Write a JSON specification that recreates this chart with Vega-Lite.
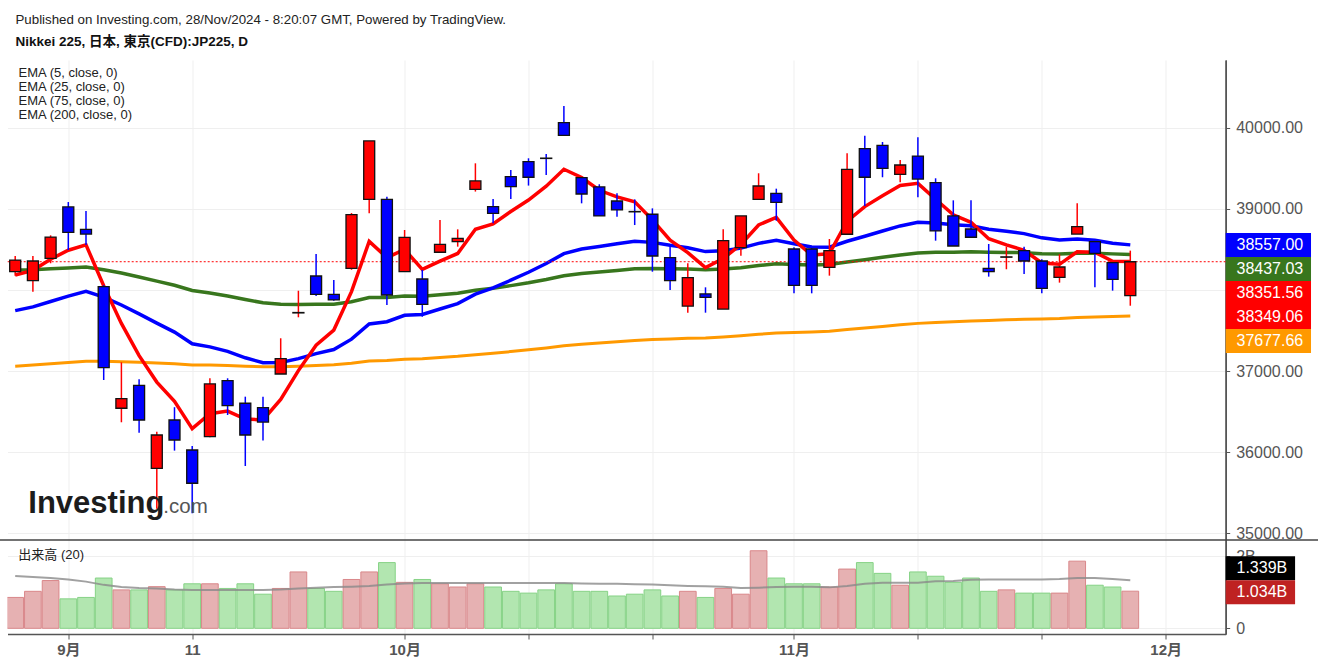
{
  "$schema": "https://vega.github.io/schema/vega-lite/v6.json",
  "width": 1218.2,
  "height": 574,
  "autosize": {"type": "none"},
  "padding": {"left": 7.5, "top": 60, "right": 92.3, "bottom": 33},
  "background": "white",
  "title": {
    "text": "Published on Investing.com, 28/Nov/2024 - 8:20:07 GMT, Powered by TradingView.",
    "subtitle": "Nikkei 225, 日本, 東京(CFD):JP225, D",
    "anchor": "start",
    "frame": "group",
    "orient": "top",
    "offset": 12,
    "dx": 8,
    "font": "Liberation Sans, Noto Sans CJK JP",
    "fontSize": 13.3,
    "fontWeight": "normal",
    "color": "#222222",
    "subtitleFont": "Liberation Sans, Noto Sans CJK JP",
    "subtitleFontSize": 13.5,
    "subtitleFontWeight": "bold",
    "subtitleColor": "#111111",
    "subtitlePadding": 8.5
  },
  "datasets": {
    "bars": [
      {"i":0,"d":"2024-08-28","o":38226,"h":38420,"l":38177,"c":38370,"v":0.86,"vma":1.46,"e5":38185,"e25":37745,"e75":38247,"e200":37060},
      {"i":1,"d":"2024-08-29","o":38115,"h":38420,"l":37979,"c":38358,"v":1.03,"vma":1.43,"e5":38243,"e25":37792,"e75":38250,"e200":37073},
      {"i":2,"d":"2024-08-30","o":38391,"h":38675,"l":38330,"c":38654,"v":1.33,"vma":1.40,"e5":38380,"e25":37858,"e75":38261,"e200":37089},
      {"i":3,"d":"2024-09-02","o":39025,"h":39086,"l":38494,"c":38712,"v":0.82,"vma":1.36,"e5":38491,"e25":37924,"e75":38273,"e200":37105},
      {"i":4,"d":"2024-09-03","o":38749,"h":38975,"l":38556,"c":38691,"v":0.86,"vma":1.30,"e5":38558,"e25":37983,"e75":38284,"e200":37121},
      {"i":5,"d":"2024-09-04","o":38041,"h":38060,"l":36889,"c":37041,"v":1.40,"vma":1.21,"e5":38052,"e25":37911,"e75":38251,"e200":37120},
      {"i":6,"d":"2024-09-05","o":36540,"h":37107,"l":36367,"c":36658,"v":1.07,"vma":1.15,"e5":37587,"e25":37815,"e75":38209,"e200":37115},
      {"i":7,"d":"2024-09-06","o":36822,"h":36897,"l":36238,"c":36395,"v":1.07,"vma":1.12,"e5":37190,"e25":37706,"e75":38161,"e200":37108},
      {"i":8,"d":"2024-09-09","o":35798,"h":36251,"l":35300,"c":36210,"v":1.16,"vma":1.11,"e5":36863,"e25":37591,"e75":38110,"e200":37099},
      {"i":9,"d":"2024-09-10","o":36395,"h":36553,"l":36017,"c":36148,"v":1.07,"vma":1.08,"e5":36625,"e25":37480,"e75":38058,"e200":37090},
      {"i":10,"d":"2024-09-11","o":36025,"h":36074,"l":35243,"c":35614,"v":1.24,"vma":1.07,"e5":36288,"e25":37336,"e75":37994,"e200":37075},
      {"i":11,"d":"2024-09-12","o":36190,"h":36910,"l":36182,"c":36840,"v":1.24,"vma":1.07,"e5":36472,"e25":37298,"e75":37964,"e200":37073},
      {"i":12,"d":"2024-09-13","o":36880,"h":36910,"l":36457,"c":36572,"v":1.11,"vma":1.07,"e5":36505,"e25":37242,"e75":37927,"e200":37068},
      {"i":13,"d":"2024-09-17","o":36602,"h":36683,"l":35827,"c":36210,"v":1.24,"vma":1.07,"e5":36407,"e25":37163,"e75":37882,"e200":37059},
      {"i":14,"d":"2024-09-18","o":36547,"h":36683,"l":36142,"c":36370,"v":0.95,"vma":1.07,"e5":36395,"e25":37102,"e75":37842,"e200":37052},
      {"i":15,"d":"2024-09-19","o":36963,"h":37404,"l":36963,"c":37153,"v":1.11,"vma":1.08,"e5":36648,"e25":37106,"e75":37824,"e200":37053},
      {"i":16,"d":"2024-09-20","o":37717,"h":37991,"l":37663,"c":37722,"v":1.57,"vma":1.11,"e5":37005,"e25":37153,"e75":37821,"e200":37060},
      {"i":17,"d":"2024-09-24","o":38173,"h":38444,"l":37926,"c":37947,"v":1.11,"vma":1.13,"e5":37319,"e25":37214,"e75":37824,"e200":37069},
      {"i":18,"d":"2024-09-25","o":37947,"h":38123,"l":37868,"c":37877,"v":1.03,"vma":1.15,"e5":37505,"e25":37265,"e75":37825,"e200":37077},
      {"i":19,"d":"2024-09-26","o":38268,"h":38950,"l":38250,"c":38930,"v":1.36,"vma":1.16,"e5":37980,"e25":37393,"e75":37854,"e200":37095},
      {"i":20,"d":"2024-09-27","o":39120,"h":39840,"l":38947,"c":39840,"v":1.57,"vma":1.18,"e5":38600,"e25":37581,"e75":37906,"e200":37122},
      {"i":21,"d":"2024-09-30","o":39120,"h":39152,"l":37815,"c":37938,"v":1.83,"vma":1.22,"e5":38400,"e25":37608,"e75":37907,"e200":37130},
      {"i":22,"d":"2024-10-01","o":38226,"h":38741,"l":38226,"c":38650,"v":1.28,"vma":1.25,"e5":38500,"e25":37688,"e75":37927,"e200":37145},
      {"i":23,"d":"2024-10-02","o":38136,"h":38247,"l":37670,"c":37823,"v":1.36,"vma":1.26,"e5":38254,"e25":37698,"e75":37924,"e200":37152},
      {"i":24,"d":"2024-10-03","o":38466,"h":38864,"l":38466,"c":38564,"v":1.24,"vma":1.26,"e5":38357,"e25":37765,"e75":37941,"e200":37166},
      {"i":25,"d":"2024-10-04","o":38596,"h":38749,"l":38535,"c":38638,"v":1.15,"vma":1.26,"e5":38451,"e25":37832,"e75":37959,"e200":37181},
      {"i":26,"d":"2024-10-07","o":39243,"h":39564,"l":39215,"c":39346,"v":1.24,"vma":1.26,"e5":38749,"e25":37948,"e75":37996,"e200":37202},
      {"i":27,"d":"2024-10-08","o":39029,"h":39123,"l":38823,"c":38947,"v":1.15,"vma":1.26,"e5":38815,"e25":38025,"e75":38021,"e200":37219},
      {"i":28,"d":"2024-10-09","o":39399,"h":39481,"l":39123,"c":39276,"v":1.03,"vma":1.26,"e5":38969,"e25":38121,"e75":38054,"e200":37240},
      {"i":29,"d":"2024-10-10","o":39584,"h":39626,"l":39289,"c":39392,"v":0.98,"vma":1.26,"e5":39110,"e25":38219,"e75":38089,"e200":37261},
      {"i":30,"d":"2024-10-11","o":39628,"h":39679,"l":39420,"c":39624,"v":1.07,"vma":1.26,"e5":39282,"e25":38327,"e75":38129,"e200":37285},
      {"i":31,"d":"2024-10-15","o":40066,"h":40272,"l":39910,"c":39910,"v":1.24,"vma":1.26,"e5":39491,"e25":38449,"e75":38176,"e200":37311},
      {"i":32,"d":"2024-10-16","o":39387,"h":39387,"l":39070,"c":39185,"v":1.03,"vma":1.25,"e5":39389,"e25":38506,"e75":38203,"e200":37330},
      {"i":33,"d":"2024-10-17","o":39272,"h":39305,"l":38914,"c":38914,"v":1.03,"vma":1.24,"e5":39231,"e25":38537,"e75":38222,"e200":37346},
      {"i":34,"d":"2024-10-18","o":39099,"h":39193,"l":38905,"c":38988,"v":0.90,"vma":1.24,"e5":39150,"e25":38572,"e75":38242,"e200":37362},
      {"i":35,"d":"2024-10-21","o":38969,"h":39119,"l":38802,"c":38965,"v":0.95,"vma":1.23,"e5":39089,"e25":38602,"e75":38261,"e200":37378},
      {"i":36,"d":"2024-10-22","o":38935,"h":39008,"l":38226,"c":38420,"v":1.07,"vma":1.22,"e5":38866,"e25":38588,"e75":38265,"e200":37388},
      {"i":37,"d":"2024-10-23","o":38399,"h":38535,"l":38000,"c":38115,"v":0.90,"vma":1.20,"e5":38616,"e25":38552,"e75":38261,"e200":37395},
      {"i":38,"d":"2024-10-24","o":37802,"h":38330,"l":37720,"c":38152,"v":1.03,"vma":1.18,"e5":38461,"e25":38521,"e75":38258,"e200":37403},
      {"i":39,"d":"2024-10-25","o":37951,"h":38033,"l":37720,"c":37910,"v":0.86,"vma":1.17,"e5":38277,"e25":38474,"e75":38249,"e200":37408},
      {"i":40,"d":"2024-10-28","o":37765,"h":38749,"l":37765,"c":38609,"v":1.11,"vma":1.16,"e5":38388,"e25":38484,"e75":38258,"e200":37420},
      {"i":41,"d":"2024-10-29","o":38523,"h":38914,"l":38424,"c":38914,"v":0.95,"vma":1.12,"e5":38563,"e25":38517,"e75":38275,"e200":37435},
      {"i":42,"d":"2024-10-30","o":39120,"h":39441,"l":39111,"c":39284,"v":2.16,"vma":1.13,"e5":38803,"e25":38576,"e75":38302,"e200":37453},
      {"i":43,"d":"2024-10-31","o":39193,"h":39251,"l":38856,"c":39082,"v":1.40,"vma":1.15,"e5":38896,"e25":38615,"e75":38323,"e200":37469},
      {"i":44,"d":"2024-11-01","o":38506,"h":38527,"l":37959,"c":38058,"v":1.24,"vma":1.16,"e5":38617,"e25":38572,"e75":38316,"e200":37475},
      {"i":45,"d":"2024-11-04","o":38506,"h":38520,"l":37959,"c":38058,"v":1.24,"vma":1.16,"e5":38431,"e25":38532,"e75":38309,"e200":37481},
      {"i":46,"d":"2024-11-05","o":38280,"h":38630,"l":38177,"c":38486,"v":1.15,"vma":1.14,"e5":38449,"e25":38528,"e75":38314,"e200":37491},
      {"i":47,"d":"2024-11-06","o":38688,"h":39687,"l":38688,"c":39490,"v":1.65,"vma":1.18,"e5":38850,"e25":38602,"e75":38345,"e200":37511},
      {"i":48,"d":"2024-11-07","o":39745,"h":39905,"l":39037,"c":39392,"v":1.83,"vma":1.24,"e5":39030,"e25":38663,"e75":38373,"e200":37530},
      {"i":49,"d":"2024-11-08","o":39786,"h":39827,"l":39392,"c":39502,"v":1.53,"vma":1.27,"e5":39164,"e25":38728,"e75":38403,"e200":37550},
      {"i":50,"d":"2024-11-11","o":39428,"h":39605,"l":39330,"c":39543,"v":1.20,"vma":1.27,"e5":39290,"e25":38791,"e75":38433,"e200":37570},
      {"i":51,"d":"2024-11-12","o":39654,"h":39885,"l":39144,"c":39370,"v":1.57,"vma":1.27,"e5":39317,"e25":38836,"e75":38458,"e200":37588},
      {"i":52,"d":"2024-11-13","o":39325,"h":39379,"l":38609,"c":38729,"v":1.45,"vma":1.31,"e5":39121,"e25":38828,"e75":38465,"e200":37599},
      {"i":53,"d":"2024-11-14","o":38914,"h":39107,"l":38543,"c":38543,"v":1.28,"vma":1.32,"e5":38928,"e25":38806,"e75":38467,"e200":37608},
      {"i":54,"d":"2024-11-15","o":38753,"h":39107,"l":38651,"c":38651,"v":1.40,"vma":1.35,"e5":38836,"e25":38794,"e75":38472,"e200":37618},
      {"i":55,"d":"2024-11-18","o":38268,"h":38568,"l":38165,"c":38226,"v":1.03,"vma":1.36,"e5":38633,"e25":38750,"e75":38466,"e200":37624},
      {"i":56,"d":"2024-11-19","o":38405,"h":38535,"l":38256,"c":38409,"v":1.07,"vma":1.36,"e5":38558,"e25":38724,"e75":38464,"e200":37632},
      {"i":57,"d":"2024-11-20","o":38486,"h":38535,"l":38198,"c":38358,"v":0.98,"vma":1.36,"e5":38491,"e25":38696,"e75":38461,"e200":37639},
      {"i":58,"d":"2024-11-21","o":38358,"h":38379,"l":37959,"c":38021,"v":0.98,"vma":1.36,"e5":38334,"e25":38644,"e75":38449,"e200":37643},
      {"i":59,"d":"2024-11-22","o":38157,"h":38441,"l":38091,"c":38284,"v":0.98,"vma":1.37,"e5":38317,"e25":38616,"e75":38445,"e200":37649},
      {"i":60,"d":"2024-11-25","o":38691,"h":39070,"l":38691,"c":38782,"v":1.87,"vma":1.40,"e5":38472,"e25":38629,"e75":38454,"e200":37660},
      {"i":61,"d":"2024-11-26","o":38597,"h":38597,"l":38033,"c":38453,"v":1.20,"vma":1.40,"e5":38466,"e25":38615,"e75":38454,"e200":37668},
      {"i":62,"d":"2024-11-27","o":38338,"h":38338,"l":37992,"c":38132,"v":1.15,"vma":1.37,"e5":38355,"e25":38578,"e75":38446,"e200":37673},
      {"i":63,"d":"2024-11-28","o":37930,"h":38486,"l":37806,"c":38349.06,"v":1.034,"vma":1.339,"e5":38351.56,"e25":38557,"e75":38437.03,"e200":37677.66}
    ],
    "ptags": [
      {"t":"38557.00","s":0,"k":"e25"},
      {"t":"38437.03","s":1,"k":"e75"},
      {"t":"38351.56","s":2,"k":"e5"},
      {"t":"38349.06","s":3,"k":"close"},
      {"t":"37677.66","s":4,"k":"e200"}
    ],
    "vtags": [
      {"t":"1.339B","s":0,"k":"vma"},
      {"t":"1.034B","s":1,"k":"vol"}
    ]
  },
  "layer": [
    {
      "data": {"name": "bars"},
      "layer": [
        {
          "mark": {"type": "bar", "size": 16.7, "strokeWidth": 1, "clip": true},
          "encoding": {
            "x": {"field": "i", "type": "quantitative", "scale": {"domain": [-0.435, 68.39], "nice": false, "zero": false, "padding": 0},
              "axis": {"values": [3,10,22,29,36,44,51,58,65], "labelExpr": "datum.value == 3 ? '9月' : datum.value == 10 ? '11' : datum.value == 22 ? '10月' : datum.value == 44 ? '11月' : datum.value == 65 ? '12月' : ''", "grid": true, "gridColor": "#efefef", "domainColor": "#555555", "domainWidth": 1.5, "tickColor": "#555555", "tickSize": 5, "labelFontSize": 15, "labelFontWeight": "bold", "labelColor": "#555555", "labelPadding": 3, "title": null, "labelFlush": false, "labelOverlap": false}},
            "y": {"field": "v", "type": "quantitative", "scale": {"domain": [-0.1588, 15.83], "nice": false, "zero": false},
              "axis": {"orient": "right", "values": [0, 2], "labelExpr": "datum.value == 0 ? '0' : datum.value + 'B'", "grid": true, "gridColor": "#efefef", "domainColor": "#555555", "domainWidth": 1.5, "tickColor": "#555555", "tickSize": 4, "labelFontSize": 16, "labelColor": "#555555", "labelPadding": 6, "title": null}},
            "y2": {"datum": 0},
            "color": {"condition": {"test": "datum.c > datum.o", "value": "#e6b1b2"}, "value": "#b2e6b0"},
            "stroke": {"condition": {"test": "datum.c > datum.o", "value": "#d9878a"}, "value": "#86d286"}
          }
        },
        {
          "mark": {"type": "line", "color": "#8a8a8a", "strokeWidth": 2, "opacity": 0.8},
          "encoding": {
            "x": {"field": "i", "type": "quantitative"},
            "y": {"field": "vma", "type": "quantitative"}
          }
        },
        {
          "data": {"values": [{"t": "出来高 (20)"}]},
          "mark": {"type": "text", "align": "left", "baseline": "middle", "fontSize": 13, "color": "#222222"},
          "encoding": {
            "x": {"datum": 0.175},
            "y": {"datum": 2.042},
            "text": {"field": "t"}
          }
        }
      ]
    },
    {
      "data": {"name": "bars"},
      "layer": [
        {
          "mark": {"type": "line", "color": "#ff9900", "strokeWidth": 3},
          "encoding": {
            "x": {"field": "i", "type": "quantitative"},
            "y": {"field": "e200", "type": "quantitative", "scale": {"domain": [33753.1, 40839.5], "nice": false, "zero": false},
              "axis": {"orient": "right", "values": [35000,36000,37000,38000,39000,40000], "labelExpr": "datum.value == 38000 ? '' : format(datum.value, '.2f')", "grid": true, "gridColor": "#efefef", "domainColor": "#555555", "domainWidth": 1.5, "tickColor": "#555555", "tickSize": 4, "labelFontSize": 16, "labelColor": "#555555", "labelPadding": 6, "title": null}}
          }
        },
        {
          "mark": {"type": "line", "color": "#38761d", "strokeWidth": 3.5},
          "encoding": {
            "x": {"field": "i", "type": "quantitative"},
            "y": {"field": "e75", "type": "quantitative"}
          }
        },
        {
          "mark": {"type": "line", "color": "#0000ff", "strokeWidth": 3.5},
          "encoding": {
            "x": {"field": "i", "type": "quantitative"},
            "y": {"field": "e25", "type": "quantitative"}
          }
        },
        {
          "mark": {"type": "line", "color": "#ff0000", "strokeWidth": 3.5},
          "encoding": {
            "x": {"field": "i", "type": "quantitative"},
            "y": {"field": "e5", "type": "quantitative"}
          }
        },
        {
          "transform": [{"filter": "datum.i == 63"}],
          "mark": {"type": "rule", "color": "#ff0000", "strokeWidth": 1, "strokeDash": [2, 2]},
          "encoding": {
            "y": {"field": "c", "type": "quantitative"}
          }
        },
        {
          "mark": {"type": "rule", "strokeWidth": 1.5},
          "encoding": {
            "x": {"field": "i", "type": "quantitative"},
            "y": {"field": "l", "type": "quantitative"},
            "y2": {"field": "h"},
            "color": {"condition": {"test": "datum.c > datum.o", "value": "#ff0000"}, "value": "#0000ff"}
          }
        },
        {
          "mark": {"type": "bar", "size": 11, "stroke": "#111111", "strokeWidth": 1.3},
          "encoding": {
            "x": {"field": "i", "type": "quantitative"},
            "y": {"field": "o", "type": "quantitative"},
            "y2": {"field": "c"},
            "color": {"condition": {"test": "datum.c > datum.o", "value": "#ff0000"}, "value": "#0000ff"}
          }
        },
        {
          "data": {"values": [{"t": "sep"}]},
          "mark": {"type": "rule", "color": "#444444", "strokeWidth": 1.5, "clip": false},
          "encoding": {
            "x": {"datum": -0.87},
            "x2": {"datum": 74.1},
            "y": {"datum": 34913.6}
          }
        },
        {
          "data": {"values": [{"t": ["EMA (5, close, 0)", "EMA (25, close, 0)", "EMA (75, close, 0)", "EMA (200, close, 0)"]}]},
          "mark": {"type": "text", "align": "left", "baseline": "middle", "fontSize": 13, "lineHeight": 14, "color": "#222222"},
          "encoding": {
            "x": {"datum": 0.19},
            "y": {"datum": 40682},
            "text": {"field": "t"}
          }
        },
        {
          "data": {"values": [{"t": "Investing"}]},
          "mark": {"type": "text", "align": "left", "baseline": "alphabetic", "fontSize": 31, "fontWeight": "bold", "color": "#1c1c1c"},
          "encoding": {
            "x": {"datum": 0.74},
            "y": {"datum": 35251},
            "text": {"field": "t"}
          }
        },
        {
          "data": {"values": [{"t": ".com"}]},
          "mark": {"type": "text", "align": "left", "baseline": "alphabetic", "fontSize": 20.5, "color": "#555555"},
          "encoding": {
            "x": {"datum": 8.37},
            "y": {"datum": 35251},
            "text": {"field": "t"}
          }
        }
      ]
    },
    {
      "data": {"name": "ptags"},
      "layer": [
        {
          "mark": {"type": "rule", "strokeWidth": 24, "strokeCap": "butt", "clip": false},
          "encoding": {
            "x": {"datum": 68.39},
            "x2": {"datum": 73.21},
            "y": {"field": "s", "type": "quantitative", "scale": {"domain": [-7.7083, 16.2083], "reverse": true, "nice": false, "zero": false}, "axis": null},
            "color": {"field": "k", "type": "nominal", "legend": null, "scale": {"domain": ["e25","e75","e5","close","e200","vma","vol"], "range": ["#0000ff","#38761d","#ff0000","#ff0000","#ff9900","#000000","#bf2222"]}}
          }
        },
        {
          "mark": {"type": "text", "align": "left", "baseline": "middle", "fontSize": 16, "color": "#ffffff", "clip": false},
          "encoding": {
            "x": {"datum": 69.0},
            "y": {"field": "s", "type": "quantitative"},
            "text": {"field": "t"}
          }
        }
      ]
    },
    {
      "data": {"name": "vtags"},
      "layer": [
        {
          "mark": {"type": "rule", "strokeWidth": 24, "strokeCap": "butt", "clip": false},
          "encoding": {
            "x": {"datum": 68.39},
            "x2": {"datum": 72.31},
            "y": {"field": "s", "type": "quantitative", "scale": {"domain": [-21.179, 2.7375], "reverse": true, "nice": false, "zero": false}, "axis": null},
            "color": {"field": "k", "type": "nominal", "legend": null, "scale": {"domain": ["e25","e75","e5","close","e200","vma","vol"], "range": ["#0000ff","#38761d","#ff0000","#ff0000","#ff9900","#000000","#bf2222"]}}
          }
        },
        {
          "mark": {"type": "text", "align": "left", "baseline": "middle", "fontSize": 16, "color": "#ffffff", "clip": false},
          "encoding": {
            "x": {"datum": 69.0},
            "y": {"field": "s", "type": "quantitative"},
            "text": {"field": "t"}
          }
        }
      ]
    }
  ],
  "resolve": {"scale": {"y": "independent"}, "axis": {"y": "independent"}},
  "config": {
    "view": {"stroke": null},
    "font": "Liberation Sans, Noto Sans CJK JP",
    "axis": {"labelFont": "Liberation Sans, Noto Sans CJK JP"},
    "text": {"font": "Liberation Sans, Noto Sans CJK JP"}
  }
}
